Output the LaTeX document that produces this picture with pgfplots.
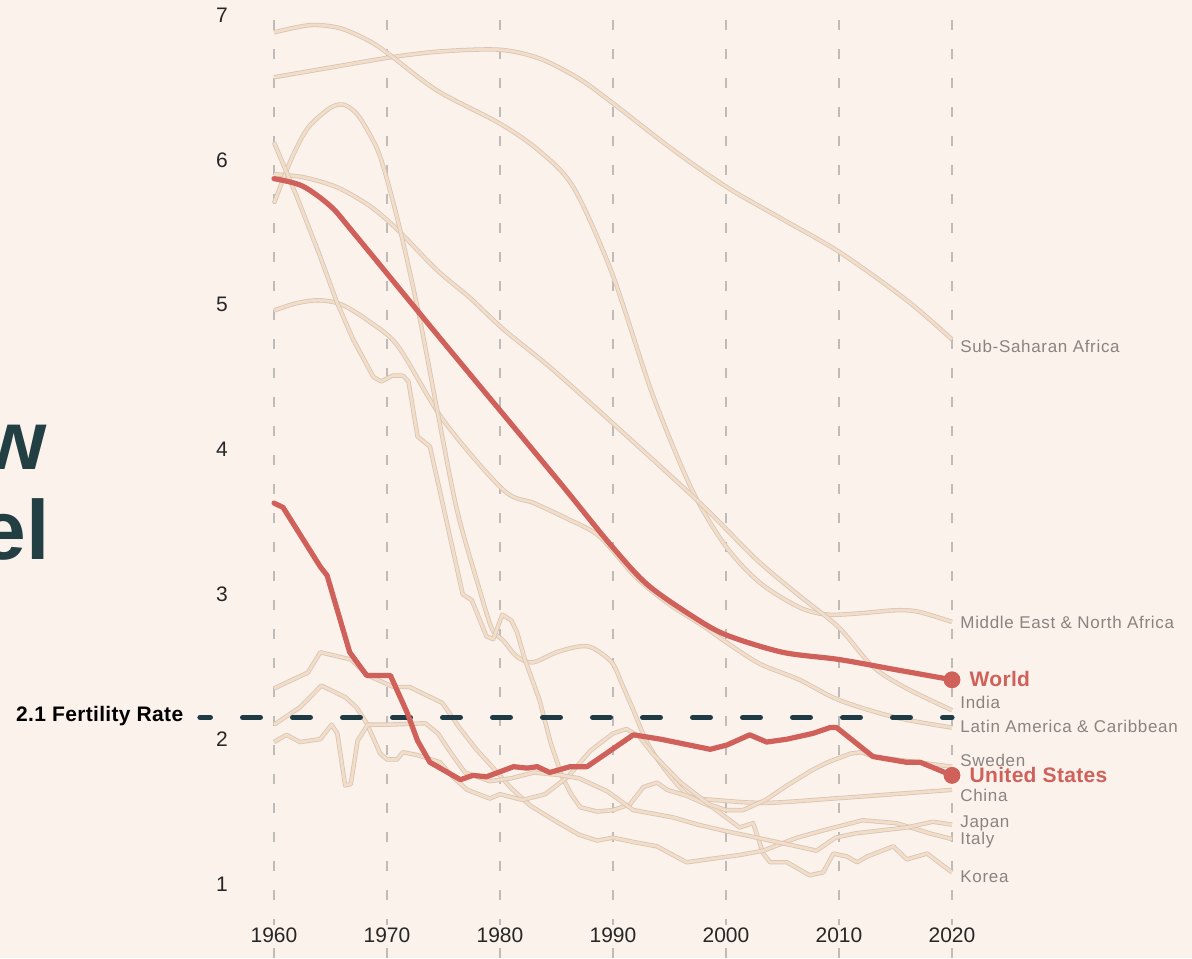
\documentclass[border=0pt]{standalone}
\usepackage{pgfplots}
\pgfplotsset{compat=1.18}
\usepackage{fontspec}
\setmainfont{Liberation Sans}
\newfontfamily\lblfont[LetterSpace=4]{Liberation Sans}
\newfontfamily\hotfont[LetterSpace=1.5]{Liberation Sans}

\definecolor{bg}{HTML}{FCF2EC}
\definecolor{peach}{HTML}{F2DDC8}
\definecolor{peachedge}{HTML}{D8C5B6}
\definecolor{usred}{HTML}{D0605A}
\definecolor{refteal}{HTML}{1E3A44}
\definecolor{titleteal}{HTML}{223F43}
\definecolor{gridgrey}{HTML}{BEBBB9}
\definecolor{labelgrey}{HTML}{8A8380}

\tikzset{
  light/.style={draw=peachedge, line width=0.4pt, double=peach, double distance=1.4pt, line join=round, mark=none},
  hot/.style={draw=usred, line width=2.6pt, line join=round, line cap=round, mark=none},
  lbl/.style={anchor=base west, inner sep=0, text=labelgrey, font=\lblfont\fontsize{8.5}{10}\selectfont},
  hotlbl/.style={anchor=base west, inner sep=0, text=usred, font=\hotfont\fontsize{10.5}{12}\selectfont\bfseries},
}

\begin{document}
\begin{tikzpicture}
\useasboundingbox (0,0) rectangle (596pt,479pt);
\fill[bg] (0,0) rectangle (596pt,479pt);
% cut-off title on the left
\node[anchor=base east, inner sep=0, text=titleteal, font=\fontsize{42}{42}\selectfont\bfseries] at (23.5pt,244pt) {w};
\node[anchor=base east, inner sep=0, text=titleteal, font=\fontsize{42}{42}\selectfont\bfseries] at (25pt,199pt) {el};

\begin{axis}[
  at={(137pt,0pt)}, anchor=south west,
  scale only axis, width=339pt, height=471.5pt,
  xmin=1960, xmax=2020, ymin=0.489, ymax=7,
  clip=false,
  axis line style={draw=none},
  major tick length=0pt,
  xtick={1960,1970,...,2020}, ytick={1,...,7},
  xmajorgrids, grid style={gridgrey, line width=1.1pt, dash pattern=on 5pt off 9.5pt},
  /pgf/number format/assume math mode=true,
  /pgf/number format/set thousands separator={},
  tick label style={font=\fontsize{10.5}{12}\selectfont, text=black!85},
  xticklabel style={anchor=center, yshift=11.5pt, fill=bg, inner sep=1.5pt},
  yticklabel style={anchor=center, xshift=-26pt},
]

% light background series
% Sub-Saharan Africa
\addplot[light, smooth] coordinates {(1960,6.57) (1965.2,6.64) (1970.5,6.71) (1975,6.75) (1980,6.76) (1983.5,6.70) (1987,6.56) (1990,6.39) (1995.3,6.07) (2000.1,5.81) (2005,5.59) (2010.1,5.36) (2016,5.03) (2020,4.76)};
% Middle East & North Africa
\addplot[light, smooth] coordinates {(1960,6.88) (1963.2,6.93) (1965.8,6.91) (1968.2,6.83) (1970,6.74) (1974.4,6.48) (1980,6.25) (1983.5,6.06) (1986.5,5.81) (1989.9,5.22) (1993.5,4.38) (1997,3.72) (2000,3.33) (2003,3.08) (2006.5,2.91) (2009,2.86) (2012,2.87) (2015,2.89) (2017,2.88) (2020,2.81)};
% India
\addplot[light, smooth] coordinates {(1960,5.90) (1962.6,5.88) (1965.6,5.81) (1968.5,5.68) (1970.9,5.52) (1974.4,5.24) (1977.3,5.05) (1980.3,4.83) (1984.4,4.57) (1990,4.18) (1997.7,3.63) (2002.7,3.24) (2006.5,2.99) (2010,2.77) (2013,2.50) (2016,2.35) (2020,2.20)};
% Latin America & Caribbean
\addplot[light, smooth] coordinates {(1960,4.96) (1962,5.01) (1964,5.03) (1966,5.00) (1968.5,4.88) (1971,4.71) (1975,4.20) (1980.3,3.72) (1983,3.63) (1986,3.52) (1988.8,3.40) (1992,3.12) (1995,2.93) (1998,2.78) (2000,2.67) (2003,2.52) (2006.5,2.41) (2010,2.27) (2015,2.15) (2020,2.08)};
% China
\addplot[light, smooth] coordinates {(1960,5.70) (1961.5,6.00) (1963,6.22) (1965,6.36) (1966.2,6.38) (1967.3,6.32) (1968.3,6.20) (1969.4,6.02) (1970.9,5.60) (1972.7,4.98) (1974.4,4.29) (1976.2,3.58) (1978.2,3.03) (1979.3,2.76) (1980.3,2.68) (1981.5,2.57) (1982.9,2.53) (1985,2.60) (1987,2.64) (1988.2,2.63) (1989.9,2.53) (1990.8,2.38) (1991.8,2.20) (1993,1.98) (1994.5,1.80) (1996,1.66) (1997,1.60) (1999,1.58) (2003.5,1.56) (2009.5,1.59) (2020,1.65)};
% Korea
\addplot[light] coordinates {(1960,6.12) (1962,5.75) (1964,5.35) (1965.6,5.01) (1967,4.76) (1968.8,4.50) (1969.5,4.47) (1970.5,4.51) (1971.4,4.51) (1971.9,4.47) (1972.7,4.09) (1973.8,4.02) (1975,3.60) (1976.7,3.00) (1977.5,2.96) (1978.8,2.71) (1979.4,2.69) (1980.2,2.86) (1981,2.82) (1981.5,2.74) (1982.2,2.55) (1983.5,2.27) (1984.5,1.97) (1985.5,1.74) (1986.3,1.62) (1987.1,1.53) (1988.6,1.50) (1990,1.51) (1991.5,1.55) (1992.7,1.67) (1993.9,1.70) (1994.8,1.65) (1996.5,1.61) (1998.8,1.53) (2001.2,1.39) (2002.4,1.42) (2003.3,1.21) (2003.9,1.15) (2005.4,1.15) (2007.4,1.06) (2008.6,1.08) (2009.5,1.21) (2010.7,1.19) (2011.6,1.15) (2012.5,1.19) (2014.8,1.26) (2016,1.17) (2017.8,1.21) (2020,1.08)};
% Italy
\addplot[light] coordinates {(1960,2.35) (1963,2.46) (1964.1,2.60) (1966.8,2.55) (1968.3,2.44) (1970.6,2.36) (1972,2.36) (1974.9,2.25) (1976.4,2.08) (1977.9,1.93) (1979.3,1.81) (1981,1.66) (1982.7,1.54) (1985,1.43) (1987,1.34) (1988.6,1.30) (1990,1.32) (1991.8,1.29) (1993.9,1.26) (1996.5,1.15) (2001.2,1.20) (2003.3,1.23) (2006.3,1.32) (2008.6,1.37) (2012.1,1.44) (2015.1,1.42) (2018,1.35) (2020,1.31)};
% Sweden
\addplot[light] coordinates {(1960,2.10) (1962.3,2.22) (1964.2,2.37) (1965.5,2.32) (1966.3,2.29) (1967.3,2.22) (1968.2,2.11) (1969.4,1.90) (1970,1.86) (1970.9,1.86) (1971.4,1.91) (1972.7,1.89) (1974.7,1.84) (1975.8,1.74) (1977.1,1.65) (1979.1,1.59) (1980,1.62) (1982,1.58) (1984,1.62) (1986,1.74) (1988,1.92) (1990,2.04) (1991.2,2.07) (1992.3,2.02) (1993.5,1.90) (1996,1.70) (1998.5,1.55) (2000,1.51) (2001.5,1.51) (2003.5,1.58) (2005.4,1.68) (2007.7,1.79) (2009,1.84) (2011,1.90) (2012,1.91) (2013,1.88) (2016,1.85) (2020,1.81)};
% Japan
\addplot[light] coordinates {(1960,1.98) (1961.1,2.03) (1962.3,1.98) (1964.1,2.00) (1965.1,2.10) (1965.6,2.04) (1966.3,1.68) (1966.8,1.69) (1967.4,1.99) (1968.3,2.10) (1970,2.10) (1973.4,2.11) (1974.5,2.04) (1975.7,1.90) (1976.9,1.77) (1979.1,1.71) (1981,1.73) (1983,1.77) (1985.5,1.75) (1987,1.73) (1989.5,1.64) (1991.8,1.51) (1995.3,1.46) (1997.5,1.41) (1999.7,1.37) (2002.7,1.32) (2005.7,1.27) (2008,1.23) (2009.7,1.32) (2011.5,1.35) (2016,1.39) (2018.3,1.43) (2020,1.41)};

% 2.1 replacement line
\addplot[refteal, line width=2.6pt, line cap=round, dash pattern=on 8.9pt off 16.1pt, dash phase=3.7pt] coordinates {(1953.45,2.15) (2020,2.15)};

% highlighted series
% World
\addplot[hot, smooth] coordinates {(1960,5.87) (1962.5,5.82) (1965,5.68) (1967,5.50) (1975,4.74) (1985,3.80) (1989.7,3.35) (1993,3.07) (1997,2.85) (2000,2.72) (2005,2.60) (2010,2.55) (2015,2.48) (2020,2.41)};
% United States
\addplot[hot] coordinates {(1960,3.63) (1960.8,3.60) (1964.1,3.19) (1964.7,3.13) (1966.7,2.60) (1968.2,2.44) (1970.3,2.44) (1971.8,2.18) (1972.7,1.99) (1973.8,1.84) (1976.5,1.72) (1977.6,1.75) (1978.8,1.74) (1981.2,1.81) (1982.4,1.80) (1983.3,1.81) (1984.4,1.77) (1986.2,1.81) (1987.7,1.81) (1991.8,2.03) (1994.2,2.00) (1998.6,1.93) (2000.1,1.96) (2002.1,2.03) (2003.6,1.98) (2005.4,2.00) (2007.7,2.04) (2009.2,2.08) (2009.8,2.08) (2013,1.88) (2016,1.84) (2017.2,1.84) (2020,1.75)};
\addplot[only marks, mark=*, mark size=4pt, usred] coordinates {(2020,2.41) (2020,1.75)};

% labels
\node[anchor=base east, inner sep=0, text=black, font=\hotfont\fontsize{10.5}{12}\selectfont\bfseries] at (axis cs:1952.0,2.12) {2.1 Fertility Rate};
\node[lbl] at (axis cs:2020.71,4.669) {Sub-Saharan Africa};
\node[lbl] at (axis cs:2020.71,2.766) {Middle East \& North Africa};
\node[hotlbl] at (axis cs:2021.53,2.367) {World};
\node[lbl] at (axis cs:2020.71,2.213) {India};
\node[lbl] at (axis cs:2020.71,2.047) {Latin America \& Caribbean};
\node[lbl] at (axis cs:2020.71,1.81) {Sweden};
\node[hotlbl] at (axis cs:2021.53,1.699) {United States};
\node[lbl] at (axis cs:2020.71,1.568) {China};
\node[lbl] at (axis cs:2020.71,1.39) {Japan};
\node[lbl] at (axis cs:2020.71,1.276) {Italy};
\node[lbl] at (axis cs:2020.71,1.009) {Korea};
\end{axis}
\end{tikzpicture}
\end{document}
